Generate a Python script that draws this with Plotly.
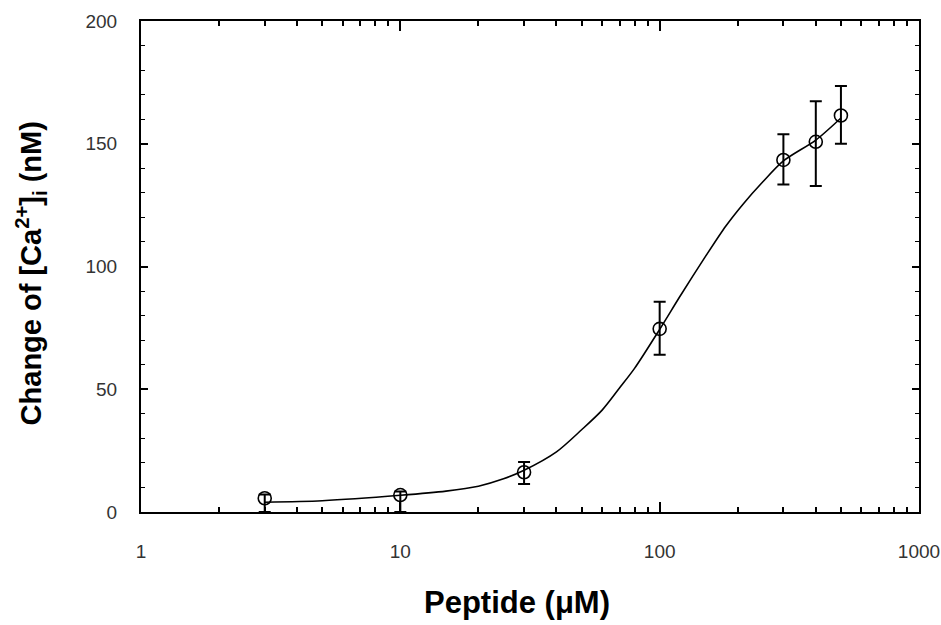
import plotly.graph_objects as go

# Measured data points
peptide_uM = [3, 10, 30, 100, 300, 400, 500]
ca_change_nM = [5.6, 6.9, 16.2, 74.6, 143.4, 150.8, 161.5]
err_plus = [1.5, 1.5, 4.2, 11.0, 10.5, 16.5, 12.0]
err_minus = [5.6, 6.9, 4.8, 10.5, 10.0, 18.0, 11.5]

# Fitted curve
curve_x = [3, 5, 10, 15, 20, 25, 30, 40, 50, 60, 70, 80, 100, 120, 150, 180, 210, 250, 300, 400, 500]
curve_y = [4.0, 4.6, 6.8, 8.5, 10.5, 13.5, 17.0, 24.5, 33.5, 41.5, 50.5, 58.5, 74.4, 88.0, 104.0, 116.5, 125.5, 134.5, 143.0, 151.5, 160.5]

x_tickvals = [1, 10, 100, 1000]
x_ticktext = ["1", "10", "100", "1000"]
y_tickvals = [0, 50, 100, 150, 200]

fig = go.Figure()
fig.add_trace(go.Scatter(
    x=curve_x, y=curve_y, mode="lines",
    line=dict(color="black", width=1.6, shape="spline", smoothing=0.8),
    showlegend=False, hoverinfo="skip"))
fig.add_trace(go.Scatter(
    x=peptide_uM, y=ca_change_nM, mode="markers",
    marker=dict(symbol="circle-open", size=13, color="black", line=dict(width=1.6)),
    error_y=dict(type="data", symmetric=False, array=err_plus, arrayminus=err_minus,
                 color="black", thickness=2, width=6),
    showlegend=False))

axis_font = dict(family="Liberation Sans, Arial, sans-serif", size=19, color="#333")

fig.update_xaxes(
    type="log", range=[0, 3], tickvals=x_tickvals, ticktext=x_ticktext,
    ticks="inside", ticklen=10, tickwidth=1.5, tickcolor="black",
    minor=dict(ticks="inside", ticklen=5, tickwidth=1.5, tickcolor="black", dtick="D1"),
    showline=True, linecolor="black", linewidth=2, mirror="allticks",
    showgrid=False, zeroline=False, tickfont=axis_font, ticklabelstandoff=21,
    ticklabeloverflow="allow", automargin=False)
fig.update_yaxes(
    range=[0, 200], tickvals=y_tickvals,
    ticks="inside", ticklen=7, tickwidth=1.5, tickcolor="black",
    minor=dict(ticks="inside", ticklen=4, tickwidth=1, tickcolor="black", dtick=10),
    showline=True, linecolor="black", linewidth=2, mirror="allticks",
    showgrid=False, zeroline=False, tickfont=axis_font, ticklabelstandoff=18,
    automargin=False)

fig.update_layout(
    width=941, height=625,
    margin=dict(l=141, r=22, t=21, b=113),
    paper_bgcolor="white", plot_bgcolor="white",
    annotations=[
        dict(text="<b>Peptide (μM)</b>", xref="paper", yref="paper",
             x=0.483, y=-0.185, showarrow=False,
             font=dict(family="Liberation Sans, Arial, sans-serif", size=31, color="black"),
             xanchor="center", yanchor="middle"),
        dict(text="<b>Change of [Ca<sup>2+</sup>]<sub>i</sub> (nM)</b>", xref="paper", yref="paper",
             x=-0.142, y=0.485, showarrow=False, textangle=-90,
             font=dict(family="Liberation Sans, Arial, sans-serif", size=29, color="black"),
             xanchor="center", yanchor="middle"),
    ])

fig.write_html("out.html")
